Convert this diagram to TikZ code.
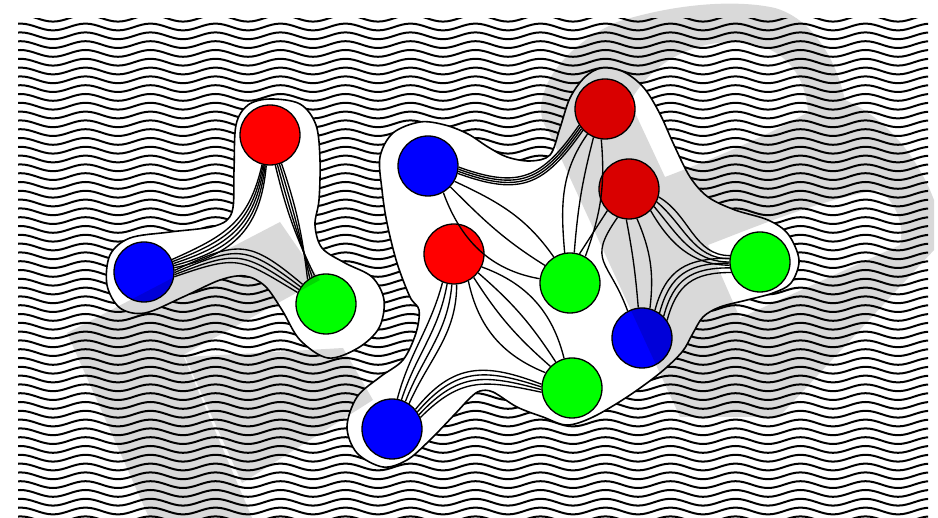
\documentclass[tikz,border=0pt]{standalone}
\begin{document}
\begin{tikzpicture}[x=1pt,y=-1pt,
  wave/.style={line width=2pt, black},
  blob/.style={fill=white, draw=black, line width=1.6pt},
  vert/.style={circle, draw=black, line width=1.3pt, minimum size=60pt, inner sep=0pt},
  edge/.style={line width=1.35pt, black},
  ghost/.style={fill=black, fill opacity=0.15}]
\useasboundingbox (0,0) rectangle (938,518);
\fill[white] (0,0) rectangle (938,518);
% wavy background
\begin{scope}
\clip (18,19) rectangle (928,518);
\foreach \i in {0,...,57} {
  \pgfmathsetmacro\yy{18.2+8.8*\i}
  \draw[wave] (-12,\yy+3.4) \foreach \k in {1,...,16} { cos ++(16.25,-3.4) sin ++(16.25,-3.4) cos ++(16.25,3.4) sin ++(16.25,3.4) };
}
\end{scope}
% blobs
\draw[blob] plot[smooth cycle, tension=0.55] coordinates {
 (270,99) (300,104) (316,125) (320,160) (319,200) (315,225) (322,248) (345,263) (372,277) (384,300) (379,328) (358,348) (328,358) (300,340) (282,310) (265,286) (245,276) (220,280) (183,297) (145,313) (120,308) (107,285) (110,255) (130,238) (170,232) (215,226) (232,212) (234,170) (236,125) (248,105)};
\draw[blob] plot[smooth cycle, tension=0.55] coordinates {
 (380,157) (393,133) (420,122) (445,125) (468,134) (488,147) (507,157) (530,161) (550,155) (560,128) (570,98) (585,77) (602,68) (624,72) (644,88) (660,114) (674,145) (690,177) (708,197) (735,210) (768,220) (788,234) (799,260) (791,283) (773,293) (747,300) (720,307) (703,317) (692,335) (682,352) (660,373) (627,397) (593,417) (567,425) (543,417) (517,407) (493,392) (480,391) (470,398) (455,414) (430,440) (407,460) (383,467) (357,453) (347,427) (357,397) (380,377) (403,360) (416,333) (419,310) (410,297) (397,263) (387,223) (382,190)};
% nodes
\node[vert, fill={rgb,255:red,255;green,0;blue,0}] (R1) at (270,135) {};
\node[vert, fill={rgb,255:red,0;green,0;blue,255}] (B1) at (144,272) {};
\node[vert, fill={rgb,255:red,0;green,255;blue,0}] (G1) at (326,304) {};
\node[vert, fill={rgb,255:red,0;green,0;blue,255}] (B3) at (428,166) {};
\node[vert, fill={rgb,255:red,255;green,0;blue,0}] (R2) at (454,254) {};
\node[vert, fill={rgb,255:red,0;green,255;blue,0}] (G2) at (570,283) {};
\node[vert, fill={rgb,255:red,0;green,255;blue,0}] (G3) at (572,388) {};
\node[vert, fill={rgb,255:red,0;green,0;blue,255}] (B2) at (392,429) {};
\node[vert, fill={rgb,255:red,255;green,0;blue,0}] (R3) at (605,109) {};
\node[vert, fill={rgb,255:red,255;green,0;blue,0}] (R4) at (629,189) {};
\node[vert, fill={rgb,255:red,0;green,255;blue,0}] (G4) at (760,262) {};
\node[vert, fill={rgb,255:red,0;green,0;blue,255}] (B4) at (642,338) {};
% edges, left blob
\foreach \k in {0,...,4} {
  \draw[edge] (R1.{-97-2*\k}) to[out={-95-2*\k}, in={12+3*\k}, looseness=1.15] (B1.{8+4*\k});
}
\foreach \k/\b in {0/6,1/2,2/-2,3/-6} {
  \draw[edge] (R1.{-80+4*\k}) to[bend right=\b] (G1.{112+5*\k});
}
\foreach \k in {0,...,3} {
  \draw[edge] (B1.{3-4*\k}) to[out={25-2*\k}, in={140+3*\k}, looseness=1.4] (G1.{140+6*\k});
}
% edges, big blob
\foreach \k in {0,...,3} {
  \draw[edge] (B3.{-2-4*\k}) to[out=-20, in=235, looseness=1.3] (R3.{212+4*\k});
}
\draw[edge] (B3.-60) to[out=-70, in=170] (G2.172);
\draw[edge] (B3.-43) to[out=-45, in=148] (G2.145);
\draw[edge] (B3.-30) to[out=-25, in=125] (G2.122);
\draw[edge] (R2.-25) to[bend left=28] (G3.105);
\draw[edge] (R2.-38) to[bend left=8] (G3.122);
\draw[edge] (R2.-50) to[bend right=8] (G3.135);
\draw[edge] (R2.-62) to[bend right=28] (G3.150);
\foreach \k in {0,...,3} {
  \draw[edge] (R2.{-112+9*\k}) to[out={-105+5*\k}, in={75-3*\k}] (B2.{80-8*\k});
}
\foreach \k in {0,...,3} {
  \draw[edge] (B2.{22+6*\k}) to[out={45+2*\k}, in={168-3*\k}, looseness=1.2] (G3.{188-5*\k});
}
\draw[edge] (R3.-125) to[out=-125, in=95] (G2.100);
\draw[edge] (R3.-112) to[bend right=5] (G2.82);
\draw[edge] (R3.-97) to[out=-85, in=70] (G2.60);
\draw[edge] (R4.-135) to (G2.72);
\draw[edge] (R4.-112) to[out=-125, in=110, looseness=1.5] (B4.118);
\draw[edge] (R4.-95) to[bend left=3] (B4.97);
\draw[edge] (R4.-75) to[bend left=15] (B4.75);
\foreach \k in {0,...,3} {
  \draw[edge] (R4.{-15-10*\k}) to[out={-30-10*\k}, in=180] (G4.{168+6*\k});
}
\foreach \k in {0,...,3} {
  \draw[edge] (B4.{35+10*\k}) to[out=75, in=180, looseness=1.2] (G4.{200-9*\k});
}
% gray overlay
\fill[ghost] (67,333) -- (280,222) -- (320,280) -- (183,355) -- (253,520) -- (150,520) -- cycle;
\fill[ghost] (185,357) -- (343,348) -- (373,400) -- (242,483) -- cycle;
\fill[ghost, even odd rule]
  (680,417) -- (548,130) .. controls (530,110) and (545,55) .. (617,22)
  .. controls (680,2) and (740,0) .. (775,8) .. controls (810,18) and (835,55) .. (845,100)
  .. controls (880,115) and (915,150) .. (934,200) -- (934,250) -- (779,417) -- cycle
  (630,102) -- (665,177) .. controls (710,160) and (770,135) .. (808,112)
  .. controls (805,70) and (780,45) .. (740,42) .. controls (690,40) and (650,65) .. cycle
  (708,245) -- (740,318) -- (900,245) .. controls (905,225) and (895,200) .. (878,190)
  .. controls (820,200) and (760,225) .. cycle;
\end{tikzpicture}
\end{document}
